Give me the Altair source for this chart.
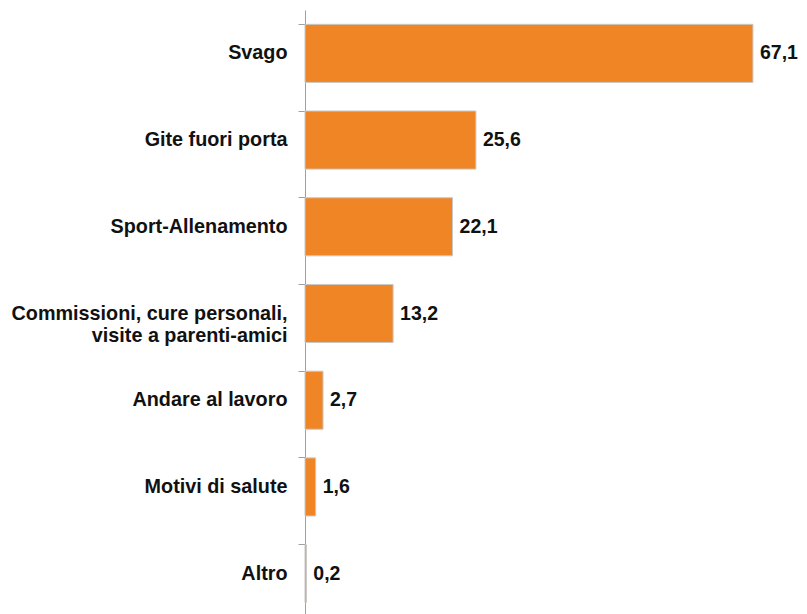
import altair as alt
import pandas as pd

categories = [
    "Svago",
    "Gite fuori porta",
    "Sport-Allenamento",
    "Commissioni, cure personali,|visite a parenti-amici",
    "Andare al lavoro",
    "Motivi di salute",
    "Altro",
]
values = [67.1, 25.6, 22.1, 13.2, 2.7, 1.6, 0.2]
value_labels = ["67,1", "25,6", "22,1", "13,2", "2,7", "1,6", "0,2"]

df = pd.DataFrame({"cat": categories, "val": values, "lab": value_labels})

y_enc = alt.Y(
    "cat:N",
    sort=categories,
    scale=alt.Scale(paddingInner=0.33, paddingOuter=0.165),
    axis=alt.Axis(
        title=None,
        labelExpr="split(datum.label, '|')",
        labelFont="Liberation Sans",
        labelFontSize=19.8,
        labelFontWeight="bold",
        labelColor="#111111",
        labelLineHeight=22,
        labelPadding=11,
        tickSize=7,
        tickColor="#a0a0a0",
        domainColor="#a0a0a0",
        bandPosition=0,
        labelLimit=400,
    ),
)

bars = alt.Chart(df).mark_bar(
    color="#F08526", stroke="#c8c8c8", strokeWidth=1
).encode(
    x=alt.X("val:Q", scale=alt.Scale(domain=[0, 74.0], nice=False), axis=None),
    y=y_enc,
)

text = alt.Chart(df).mark_text(
    align="left", baseline="middle", dx=7,
    font="Liberation Sans", fontSize=19.5, fontWeight="bold", color="#111111",
).encode(
    x=alt.X("val:Q"),
    y=alt.Y("cat:N", sort=categories),
    text="lab:N",
)

chart = (bars + text).properties(
    width=494, height=607,
    autosize=alt.AutoSizeParams(type="none"),
    padding={"left": 297, "top": 2, "right": 0, "bottom": 0},
).configure_view(stroke=None)

chart.save("out.html", embed_options={"renderer": "svg", "actions": False})
